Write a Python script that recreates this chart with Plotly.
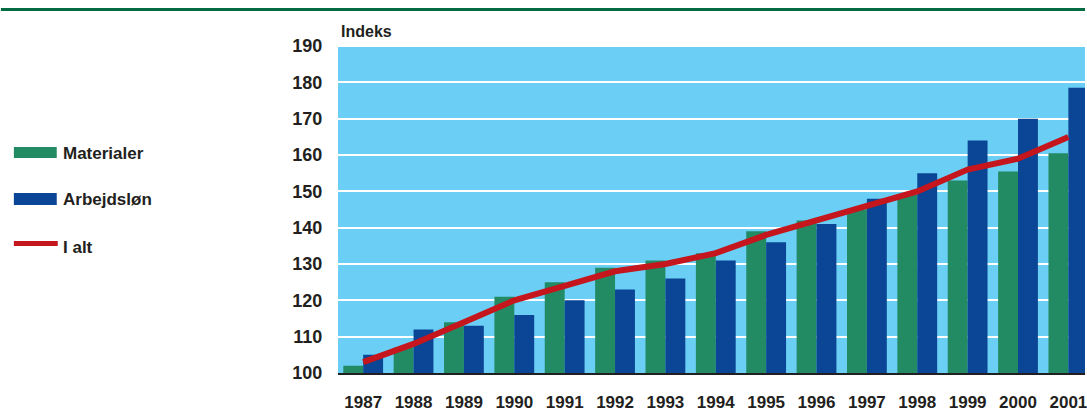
import plotly.graph_objects as go

years = ["1987", "1988", "1989", "1990", "1991", "1992", "1993", "1994",
         "1995", "1996", "1997", "1998", "1999", "2000", "2001"]
materialer = [102, 107, 114, 121, 125, 129, 131, 133, 139, 142, 145, 149, 153, 155.5, 160.5]
arbejdslon = [105, 112, 113, 116, 120, 123, 126, 131, 136, 141, 148, 155, 164, 170, 178.5]
i_alt = [103, 108, 114, 120, 124, 128, 130, 133, 138, 142, 146, 150, 156, 159, 165]
y_ticks = [100, 110, 120, 130, 140, 150, 160, 170, 180, 190]

W, H = 1087, 418
ML, MR, MT, MB = 338, 0, 45, 45
PW, PH = W - ML - MR, H - MT - MB

GREEN = "#238B63"
BLUE = "#0B4595"
RED = "#C4161C"
SKY = "#6BCEF5"
TXT = "#231F20"
FONT = "Liberation Sans, Arial, sans-serif"
NARROW = "Liberation Sans Narrow, Arial Narrow, sans-serif"


def px(x):
    return (x - ML) / PW


def py(y):
    return (H - MB - y) / PH


fig = go.Figure()
fig.add_trace(go.Bar(x=years, y=materialer, name="Materialer",
                     marker=dict(color=GREEN, line=dict(width=0))))
fig.add_trace(go.Bar(x=years, y=arbejdslon, name="Arbejdsløn",
                     marker=dict(color=BLUE, line=dict(width=0))))
fig.add_trace(go.Scatter(x=years, y=i_alt, name="I alt", mode="lines",
                         line=dict(color=RED, width=6)))

shapes = [
    dict(type="line", xref="paper", yref="paper", x0=px(0), x1=px(W),
         y0=py(9.5), y1=py(9.5), line=dict(color="#006A40", width=3)),
    dict(type="rect", xref="paper", yref="paper", x0=px(13), x1=px(56),
         y0=py(147), y1=py(158), fillcolor=GREEN, line=dict(width=0)),
    dict(type="rect", xref="paper", yref="paper", x0=px(13), x1=px(56),
         y0=py(193), y1=py(205), fillcolor=BLUE, line=dict(width=0)),
    dict(type="line", xref="paper", yref="paper", x0=px(13), x1=px(57),
         y0=py(243.5), y1=py(243.5), line=dict(color=RED, width=5)),
]

annotations = [
    dict(text="<b>Indeks</b>", xref="paper", yref="paper", x=px(339), y=py(31.5),
         xanchor="left", yanchor="middle", showarrow=False,
         font=dict(family=FONT, size=16, color=TXT)),
    dict(text="<b>Materialer</b>", xref="paper", yref="paper", x=px(60), y=py(153),
         xanchor="left", yanchor="middle", showarrow=False,
         font=dict(family=FONT, size=17, color=TXT)),
    dict(text="<b>Arbejdsløn</b>", xref="paper", yref="paper", x=px(60), y=py(199),
         xanchor="left", yanchor="middle", showarrow=False,
         font=dict(family=FONT, size=17, color=TXT)),
    dict(text="<b>I alt</b>", xref="paper", yref="paper", x=px(60), y=py(247),
         xanchor="left", yanchor="middle", showarrow=False,
         font=dict(family=FONT, size=17, color=TXT)),
]

fig.update_layout(
    width=W, height=H,
    margin=dict(l=ML, r=MR, t=MT, b=MB, pad=0),
    paper_bgcolor="white", plot_bgcolor=SKY,
    barmode="group", bargap=0.21, bargroupgap=0,
    showlegend=False,
    shapes=shapes, annotations=annotations,
    font=dict(family=FONT, color=TXT),
    xaxis=dict(type="category", range=[-0.5, 14.33], showgrid=False,
               showline=True, linecolor=TXT, linewidth=2,
               ticks="outside", ticklen=13, tickcolor="rgba(0,0,0,0)",
               tickfont=dict(family=NARROW, size=17, color=TXT),
               tickvals=years, ticktext=["<b>%s</b>" % y for y in years]),
    yaxis=dict(range=[100, 190.3], tickvals=y_ticks,
               ticktext=["<b>%d</b>" % v for v in y_ticks],
               showgrid=True, gridcolor="white", gridwidth=2,
               zeroline=False, showline=False,
               ticks="outside", ticklen=11, tickcolor="rgba(0,0,0,0)",
               tickfont=dict(family=NARROW, size=18, color=TXT)),
)

fig.write_html(
    "out.html",
    config={"displayModeBar": False},
    post_script="document.body.style.margin='0';document.body.style.overflow='hidden';",
)
